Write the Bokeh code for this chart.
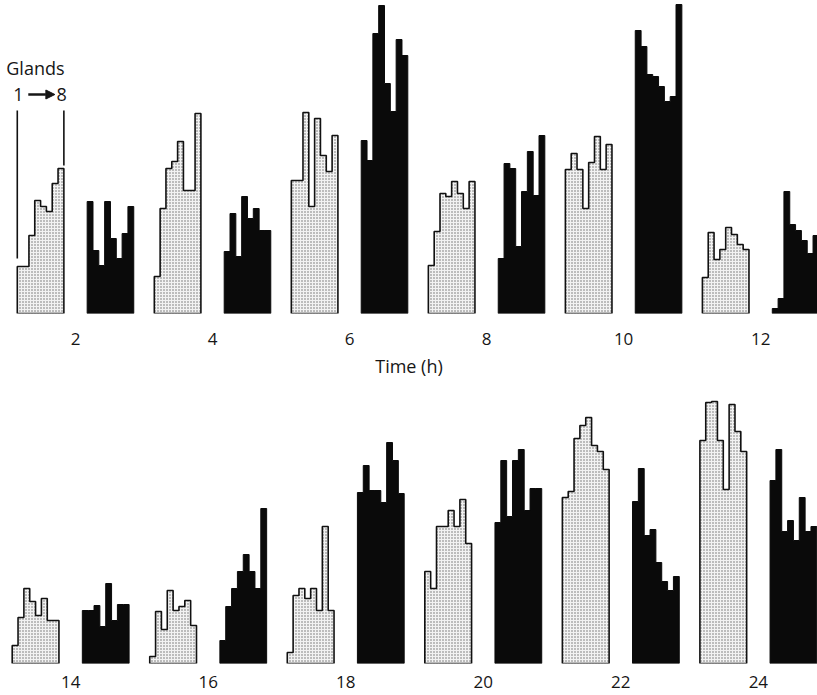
from bokeh.plotting import figure
from bokeh.layouts import column
from bokeh.models import Label, FixedTicker, Range1d, Arrow, NormalHead
from bokeh.embed import file_html
from bokeh.resources import INLINE

# Time points (h); each pair = stippled group (left) and black group (right)
times_top = [2, 4, 6, 8, 10, 12]
times_bottom = [14, 16, 18, 20, 22, 24]

# Heights for glands 1 -> 8 (arbitrary units)
stippled_heights = [
    [47, 47, 78, 113, 107, 102, 130, 145],    # 2 h
    [37, 105, 145, 152, 172, 123, 123, 200],  # 4 h
    [133, 133, 201, 107, 195, 158, 142, 178], # 6 h
    [48, 82, 120, 117, 132, 120, 105, 132],   # 8 h
    [144, 160, 144, 105, 151, 177, 144, 169], # 10 h
    [36, 81, 54, 64, 86, 79, 69, 64],         # 12 h
    [18, 46, 75, 62, 48, 65, 43, 43],         # 14 h
    [7, 52, 34, 73, 53, 57, 63, 38],          # 16 h
    [11, 68, 75, 65, 75, 53, 137, 53],        # 18 h
    [92, 75, 137, 137, 153, 137, 164, 120],   # 20 h
    [166, 172, 225, 238, 246, 218, 212, 194], # 22 h
    [223, 261, 262, 223, 174, 259, 232, 212], # 24 h
]
black_heights = [
    [112, 63, 48, 112, 75, 55, 80, 107],      # 2 h
    [62, 100, 57, 117, 95, 105, 83, 83],      # 4 h
    [173, 153, 280, 308, 230, 202, 274, 258], # 6 h
    [55, 150, 145, 67, 122, 162, 118, 178],   # 8 h
    [283, 267, 239, 237, 227, 212, 217, 309], # 10 h
    [5, 15, 122, 89, 83, 73, 60, 78],         # 12 h
    [53, 53, 58, 37, 80, 43, 59, 59],         # 14 h
    [23, 57, 75, 92, 109, 92, 75, 155],       # 16 h
    [171, 198, 173, 173, 161, 221, 203, 170], # 18 h
    [141, 203, 147, 203, 214, 153, 175, 175], # 20 h
    [162, 195, 128, 134, 101, 82, 73, 87],    # 22 h
    [183, 214, 132, 143, 123, 166, 132, 137], # 24 h
]

GROUP_W = 0.68
BAR_W = GROUP_W / 8
STIP_OFF = -0.85
BLACK_OFF = 0.17
FONT = "Open Sans"
INK = "#161616"


def outline(x0, hs):
    xs, ys = [x0], [0]
    for i, h in enumerate(hs):
        xs += [x0 + i * BAR_W, x0 + (i + 1) * BAR_W]
        ys += [h, h]
    xs.append(x0 + len(hs) * BAR_W)
    ys.append(0)
    return xs, ys


def make_row(times, offset_index, x_start, x_end, y_top, height, border_bottom,
             standoff, axis_label):
    p = figure(width=817, height=height, x_range=Range1d(x_start, x_end),
               y_range=Range1d(0, y_top), output_backend="svg", toolbar_location=None,
               y_axis_location=None, min_border_left=0, min_border_right=0,
               min_border_top=0, min_border_bottom=border_bottom)
    p.grid.visible = False
    p.outline_line_color = None
    p.background_fill_color = "white"
    p.border_fill_color = "white"

    sx, sy, bx, by = [], [], [], []
    for k, t in enumerate(times):
        xs, ys = outline(t + STIP_OFF, stippled_heights[offset_index + k])
        sx.append(xs); sy.append(ys)
        xs, ys = outline(t + BLACK_OFF, black_heights[offset_index + k])
        bx.append(xs); by.append(ys)

    p.patches(bx, by, fill_color="#0a0a0a", line_color="#0a0a0a", line_width=1)
    p.patches(sx, sy, fill_color="#f2f2f2", hatch_pattern="dot", hatch_scale=3,
              hatch_color="#6a6a6a", hatch_weight=0.9,
              line_color="#111111", line_width=1.6)

    ax = p.xaxis[0]
    ax.ticker = FixedTicker(ticks=times)
    ax.axis_line_color = None
    ax.major_tick_line_color = None
    ax.minor_tick_line_color = None
    ax.major_label_text_font = FONT
    ax.major_label_text_font_size = "17px"
    ax.major_label_text_color = INK
    ax.major_label_standoff = standoff
    if axis_label:
        ax.axis_label = axis_label
        ax.axis_label_text_font = FONT
        ax.axis_label_text_font_style = "normal"
        ax.axis_label_text_font_size = "18px"
        ax.axis_label_text_color = INK
        ax.axis_label_standoff = 6
    return p


top = make_row(times_top, 0, 0.905, 12.83, 313, 380, 67, 13, "Time (h)")
bottom = make_row(times_bottom, 6, 12.98, 24.86, 283, 315, 32, 6, None)

# "Glands 1 -> 8" key on the first stippled group
PX = (12.83 - 0.905) / 817.0  # hours per screen pixel in the top row
x_left = times_top[0] + STIP_OFF
x_right = x_left + GROUP_W
top.segment(x0=[x_left, x_right], y0=[203, 203], x1=[x_left, x_right], y1=[55, 148],
            line_color="#111111", line_width=1.6)
top.add_layout(Label(x=x_left, y=246, text="Glands", text_font=FONT, text_font_size="18px",
                     text_color=INK, x_offset=-11, text_baseline="middle"))
top.add_layout(Label(x=x_left, y=219, text="1", text_font=FONT, text_font_size="18px",
                     text_color=INK, x_offset=-4, text_baseline="middle"))
top.add_layout(Label(x=x_right, y=219, text="8", text_font=FONT, text_font_size="18px",
                     text_color=INK, x_offset=3, text_align="right", text_baseline="middle"))
top.add_layout(Arrow(x_start=x_left + 11 * PX, y_start=219, x_end=x_right - 9 * PX, y_end=219,
                     line_color=INK, line_width=2.6,
                     end=NormalHead(size=9, fill_color=INK, line_color=INK, line_width=1)))

layout = column(top, bottom, spacing=0)
open("out.html", "w").write(file_html(layout, INLINE))
